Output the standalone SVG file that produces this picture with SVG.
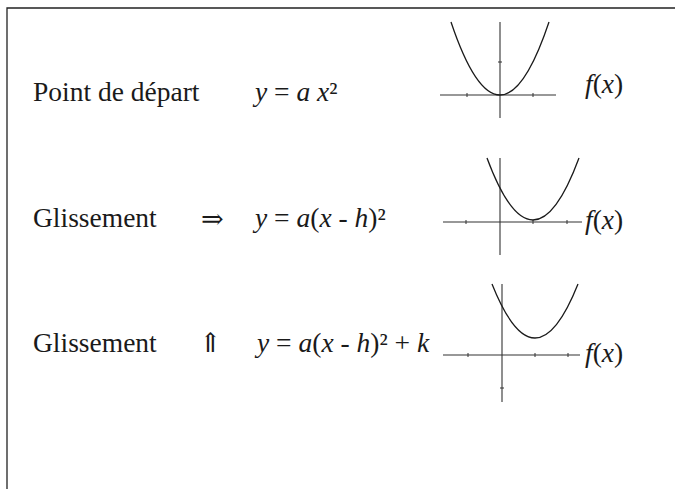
<svg xmlns="http://www.w3.org/2000/svg" width="675" height="489" viewBox="0 0 675 489">
<style>
.t{font-family:"Liberation Serif","DejaVu Serif",serif;font-size:27.5px;fill:#1a1a1a}
.i{font-style:italic}
.ar{font-family:"DejaVu Serif","Liberation Serif",serif;font-size:27px;fill:#1a1a1a}
.ax{stroke:#333;stroke-width:1.1;fill:none}
.cv{stroke:#1a1a1a;stroke-width:1.3;fill:none}
.tk{stroke:#333;stroke-width:1}
.fr{stroke:#222;stroke-width:1.3;fill:none}
</style>
<rect width="675" height="489" fill="#fff"/>
<g id="frame"><path class="fr" d="M7,489 V8 H675"/></g>
<g id="row1">
<text class="t" x="33" y="101">Point de départ</text>
<text class="t" x="255" y="101"><tspan class="i">y</tspan> = <tspan class="i">a</tspan> <tspan class="i">x</tspan>²</text>
</g>
<g id="graph1">
<line class="ax" x1="440" y1="95" x2="556" y2="95"/>
<line class="ax" x1="500" y1="22" x2="500" y2="118"/>
<path class="tk" d="M467,93 V97 M533,93 V97 M498,62 H502"/>
<path class="cv" d="M451,22 Q500,168 549,22"/>
<text class="t" x="585" y="93"><tspan class="i">f</tspan>(<tspan class="i">x</tspan>)</text>
</g>
<g id="row2">
<text class="t" x="33" y="227">Glissement</text>
<text class="ar" x="201" y="228">⇒</text>
<text class="t" x="255" y="227"><tspan class="i">y</tspan> = <tspan class="i">a</tspan>(<tspan class="i">x</tspan> - <tspan class="i">h</tspan>)²</text>
</g>
<g id="graph2">
<line class="ax" x1="443" y1="222" x2="582" y2="222"/>
<line class="ax" x1="500" y1="158" x2="500" y2="255"/>
<path class="tk" d="M466,220 V224 M533,220 V224 M567,220 V224"/>
<path class="cv" d="M487,158 Q533,282 579,158"/>
<text class="t" x="585" y="229"><tspan class="i">f</tspan>(<tspan class="i">x</tspan>)</text>
</g>
<g id="row3">
<text class="t" x="33" y="352">Glissement</text>
<text class="ar" x="199" y="352">⇑</text>
<text class="t" x="257" y="352"><tspan class="i">y</tspan> = <tspan class="i">a</tspan>(<tspan class="i">x</tspan> - <tspan class="i">h</tspan>)² + <tspan class="i">k</tspan></text>
</g>
<g id="graph3">
<line class="ax" x1="443" y1="355" x2="580" y2="355"/>
<line class="ax" x1="502" y1="284" x2="502" y2="402"/>
<path class="tk" d="M468,353 V357 M535,353 V357 M568,353 V357 M500,388 H504"/>
<path class="cv" d="M492,284 Q535,392 578,284"/>
<text class="t" x="585" y="362"><tspan class="i">f</tspan>(<tspan class="i">x</tspan>)</text>
</g>
<g id="connectors"></g>
</svg>
